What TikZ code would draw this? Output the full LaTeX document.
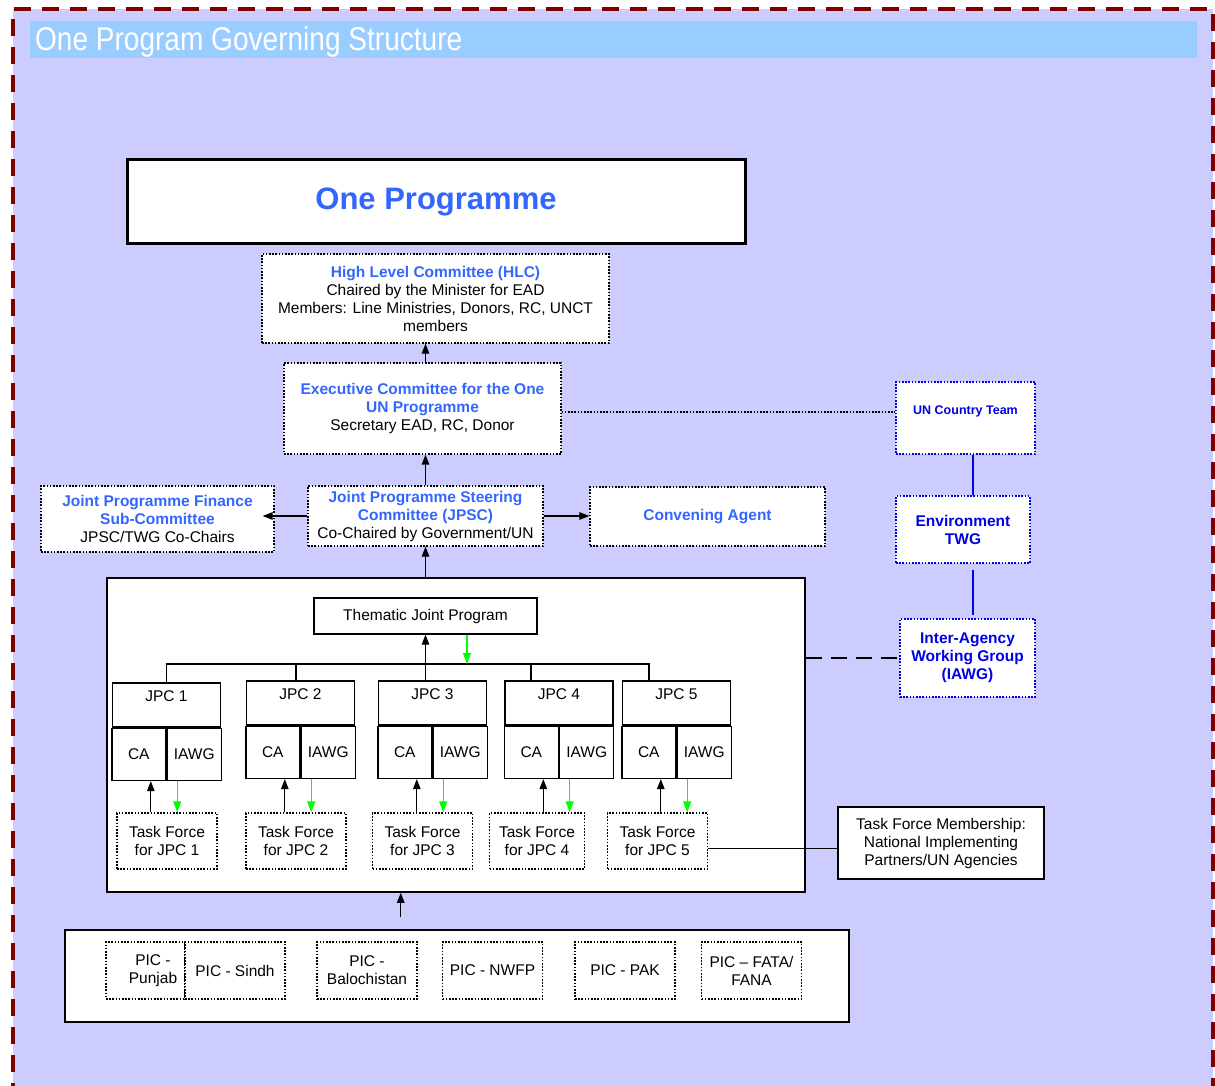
\documentclass[tikz,border=0pt]{standalone}
\usepackage{fontspec}
\setmainfont{Liberation Sans}
\newfontfamily\narrowfont[FakeStretch=0.85]{Liberation Sans}
\usetikzlibrary{arrows.meta,positioning}
\definecolor{pagebg}{RGB}{204,204,255}
\definecolor{titlebar}{RGB}{153,204,255}
\definecolor{framered}{RGB}{128,0,0}
\definecolor{headblue}{RGB}{51,102,255}
\definecolor{twgblue}{RGB}{0,0,230}
\definecolor{arrowgreen}{RGB}{0,255,0}
\newcommand{\hd}[1]{\textcolor{headblue}{\bfseries #1}}

\begin{document}
\begin{tikzpicture}
[ x=1pt, y=-1pt, line width=1.2pt
, font=\fontsize{15.5}{18}\selectfont
, box/.style={draw, fill=white, line width=1.4pt, inner sep=0pt, align=center}
, dotbox/.style={box, line width=1.3pt, dash pattern=on 1.6pt off 1.6pt}
, twgbox/.style={dotbox, draw=twgblue, text=twgblue, font=\fontsize{15.5}{18}\selectfont\bfseries}
, jpc/.style={box, minimum width=108pt, minimum height=44pt}
, cell/.style={box, minimum width=54pt, minimum height=52pt}
, tfbox/.style={dotbox, minimum width=100pt, minimum height=56pt}
, picbox/.style={dotbox, minimum width=100pt, minimum height=57pt}
, arr/.style={-{Triangle[length=10pt,width=7.5pt]}}
, garr/.style={arrowgreen, -{Triangle[length=11pt,width=8pt]}}
, dotline/.style={line width=1.4pt, dash pattern=on 1.6pt off 1.6pt}
, dashline/.style={line width=1.5pt, dash pattern=on 16pt off 9pt}
, twgline/.style={twgblue, line width=1.5pt}
]
\useasboundingbox (0,0) rectangle (1215,1086);
\clip (0,0) rectangle (1215,1086);
% Page, frame and title
\fill[pagebg] (13,9) rectangle (1213,1100);
\draw[framered, line width=4pt, dash pattern=on 17pt off 11pt] (13,1100) -- (13,9) -- (1213,9) -- (1213,1100);
\fill[titlebar] (30,21) rectangle (1197,58);
\node (title) [anchor=base west, inner sep=0pt, text=white, font=\narrowfont\fontsize{33}{36}\selectfont] at (34.5,51) {One Program Governing Structure};
% Committees
\node (oneprog) [box, line width=3pt, minimum width=618pt, minimum height=83pt, text=headblue, font=\fontsize{31}{36}\selectfont\bfseries] at (436,201.5) {One Programme};
\node (hlc) [dotbox, minimum width=347pt, minimum height=89pt] at (435.5,298.5) {\hd{High Level Committee (HLC)}\\Chaired by the Minister for EAD\\Members: Line Ministries, Donors, RC, UNCT\\members};
\node (exec) [dotbox, minimum width=277pt, minimum height=91pt] at (422.5,408.5) {\hd{Executive Committee for the One}\\\hd{UN Programme}\\Secretary EAD, RC, Donor};
\node (jpsc) [dotbox, minimum width=235pt, minimum height=60pt] at (425.5,516) {\hd{Joint Programme Steering}\\\hd{Committee (JPSC)}\\Co-Chaired by Government/UN};
\node (jpfsc) [dotbox, minimum width=233pt, minimum height=66pt] at (157.5,519) {\hd{Joint Programme Finance}\\\hd{Sub-Committee}\\JPSC/TWG Co-Chairs};
\node (convener) [dotbox, minimum width=235pt, minimum height=59pt] at (707.5,516.5) {\hd{Convening Agent}};
% UN side
\node (unct) [twgbox, minimum width=139pt, minimum height=72pt, font=\fontsize{12.5}{15}\selectfont\bfseries] at (965.5,418) {UN Country Team\\~};
\node (twg) [twgbox, minimum width=134pt, minimum height=67pt] at (963,529.5) {Environment\\TWG};
\node (iawg) [twgbox, minimum width=135pt, minimum height=78pt] at (967.5,658) {Inter-Agency\\Working Group\\(IAWG)};
% Thematic joint programme
\node (jpbox) [box, line width=1.5pt, minimum width=698pt, minimum height=314pt] at (456,735) {};
\node (thematic) [box, minimum width=223pt, minimum height=36pt] at (425.5,616) {Thematic Joint Program};
\node (jpc1) [jpc] at (166.5,705) {JPC 1\\~};
\node (ca1) [cell, below left=0pt of jpc1.south] {CA};
\node (iawg1) [cell, below right=0pt of jpc1.south] {IAWG};
\node (jpc2) [jpc] at (300.5,703) {JPC 2\\~};
\node (ca2) [cell, below left=0pt of jpc2.south] {CA};
\node (iawg2) [cell, below right=0pt of jpc2.south] {IAWG};
\node (jpc3) [jpc] at (432.5,703) {JPC 3\\~};
\node (ca3) [cell, below left=0pt of jpc3.south] {CA};
\node (iawg3) [cell, below right=0pt of jpc3.south] {IAWG};
\node (jpc4) [jpc] at (559,703) {JPC 4\\~};
\node (ca4) [cell, below left=0pt of jpc4.south] {CA};
\node (iawg4) [cell, below right=0pt of jpc4.south] {IAWG};
\node (jpc5) [jpc] at (676.5,703) {JPC 5\\~};
\node (ca5) [cell, below left=0pt of jpc5.south] {CA};
\node (iawg5) [cell, below right=0pt of jpc5.south] {IAWG};
\node (tf1) [tfbox] at (167,841) {Task Force\\for JPC 1};
\node (tf2) [tfbox] at (296,841) {Task Force\\for JPC 2};
\node (tf3) [tfbox] at (422.5,841) {Task Force\\for JPC 3};
\node (tf4) [tfbox, minimum width=95pt] at (537,841) {Task Force\\for JPC 4};
\node (tf5) [tfbox] at (657.5,841) {Task Force\\for JPC 5};
\node (tfm) [box, minimum width=206pt, minimum height=72pt] at (941,843) {Task Force Membership:\\National Implementing\\Partners/UN Agencies};
% Provincial implementation committees
\node (picrow) [box, line width=2pt, minimum width=784pt, minimum height=92pt] at (456.75,976) {};
\node (punjab) [picbox, minimum width=79pt] at (145.5,970.5) {\hspace*{15pt}PIC -\\\hspace*{15pt}Punjab};
\node (sindh) [picbox] at (235,970.5) {PIC - Sindh};
\node (baloch) [picbox] at (367,970.5) {PIC -\\Balochistan};
\node (nwfp) [picbox] at (492.5,970.5) {PIC - NWFP};
\node (pak) [picbox] at (625,970.5) {PIC - PAK};
\node (fata) [picbox] at (751.5,970.5) {PIC -- FATA/\\FANA};
% Connections
\draw [arr] (exec.north -| jpsc.north) -- (hlc.south -| jpsc.north);
\draw [arr] (jpsc.north) -- (jpsc.north |- exec.south);
\draw [arr] (jpsc.west) -- ([xshift=-12pt]jpsc.west -| jpfsc.east);
\draw [arr] (jpsc.east) -- (jpsc.east -| convener.west);
\draw [dotline] ([yshift=-3.5pt]exec.east) -- ([yshift=-3.5pt]exec.east -| unct.west);
\draw [twgline] ([xshift=7.5pt]unct.south) -- ([xshift=7.5pt]unct.south |- twg.north);
\draw [twgline, shorten >=3pt] ([xshift=10pt,yshift=-6pt]twg.south) -- ([xshift=10pt]twg.south |- iawg.north);
\draw [dashline] (jpbox.east |- iawg.west) -- (iawg.west);
\draw [arr] (jpbox.north -| jpsc.south) -- (jpsc.south);
\coordinate (picup) at ([xshift=-56pt]picrow.north);
\draw [arr] ([yshift=12pt]picup) -- (picup |- jpbox.south);
\coordinate (busR) at (649,664);
\coordinate (bus2) at (296,664);
\coordinate (bus4) at (531,664);
\draw (jpc1.north) |- (busR) -- (busR |- jpc5.north);
\draw (bus2) -- (bus2 |- jpc2.north);
\draw (bus4) -- (bus4 |- jpc4.north);
\draw [arr] (jpc3.north -| thematic.south) -- (thematic.south);
\draw [garr] ([xshift=41.5pt]thematic.south) -- ([xshift=41.5pt]thematic.south |- busR);
\draw [arr] ([xshift=12pt]ca1.south |- tf1.north) -- ([xshift=12pt]ca1.south);
\draw [garr] ([xshift=-17pt]iawg1.south) -- ([xshift=-17pt]iawg1.south |- tf1.north);
\draw [arr] ([xshift=12pt]ca2.south |- tf2.north) -- ([xshift=12pt]ca2.south);
\draw [garr] ([xshift=-17pt]iawg2.south) -- ([xshift=-17pt]iawg2.south |- tf2.north);
\draw [arr] ([xshift=12pt]ca3.south |- tf3.north) -- ([xshift=12pt]ca3.south);
\draw [garr] ([xshift=-17pt]iawg3.south) -- ([xshift=-17pt]iawg3.south |- tf3.north);
\draw [arr] ([xshift=12pt]ca4.south |- tf4.north) -- ([xshift=12pt]ca4.south);
\draw [garr] ([xshift=-17pt]iawg4.south) -- ([xshift=-17pt]iawg4.south |- tf4.north);
\draw [arr] ([xshift=12pt]ca5.south |- tf5.north) -- ([xshift=12pt]ca5.south);
\draw [garr] ([xshift=-17pt]iawg5.south) -- ([xshift=-17pt]iawg5.south |- tf5.north);
\draw [line width=1pt] ([yshift=-7pt]tf5.east) -- ([yshift=-7pt]tf5.east -| tfm.west);
\end{tikzpicture}
\end{document}
